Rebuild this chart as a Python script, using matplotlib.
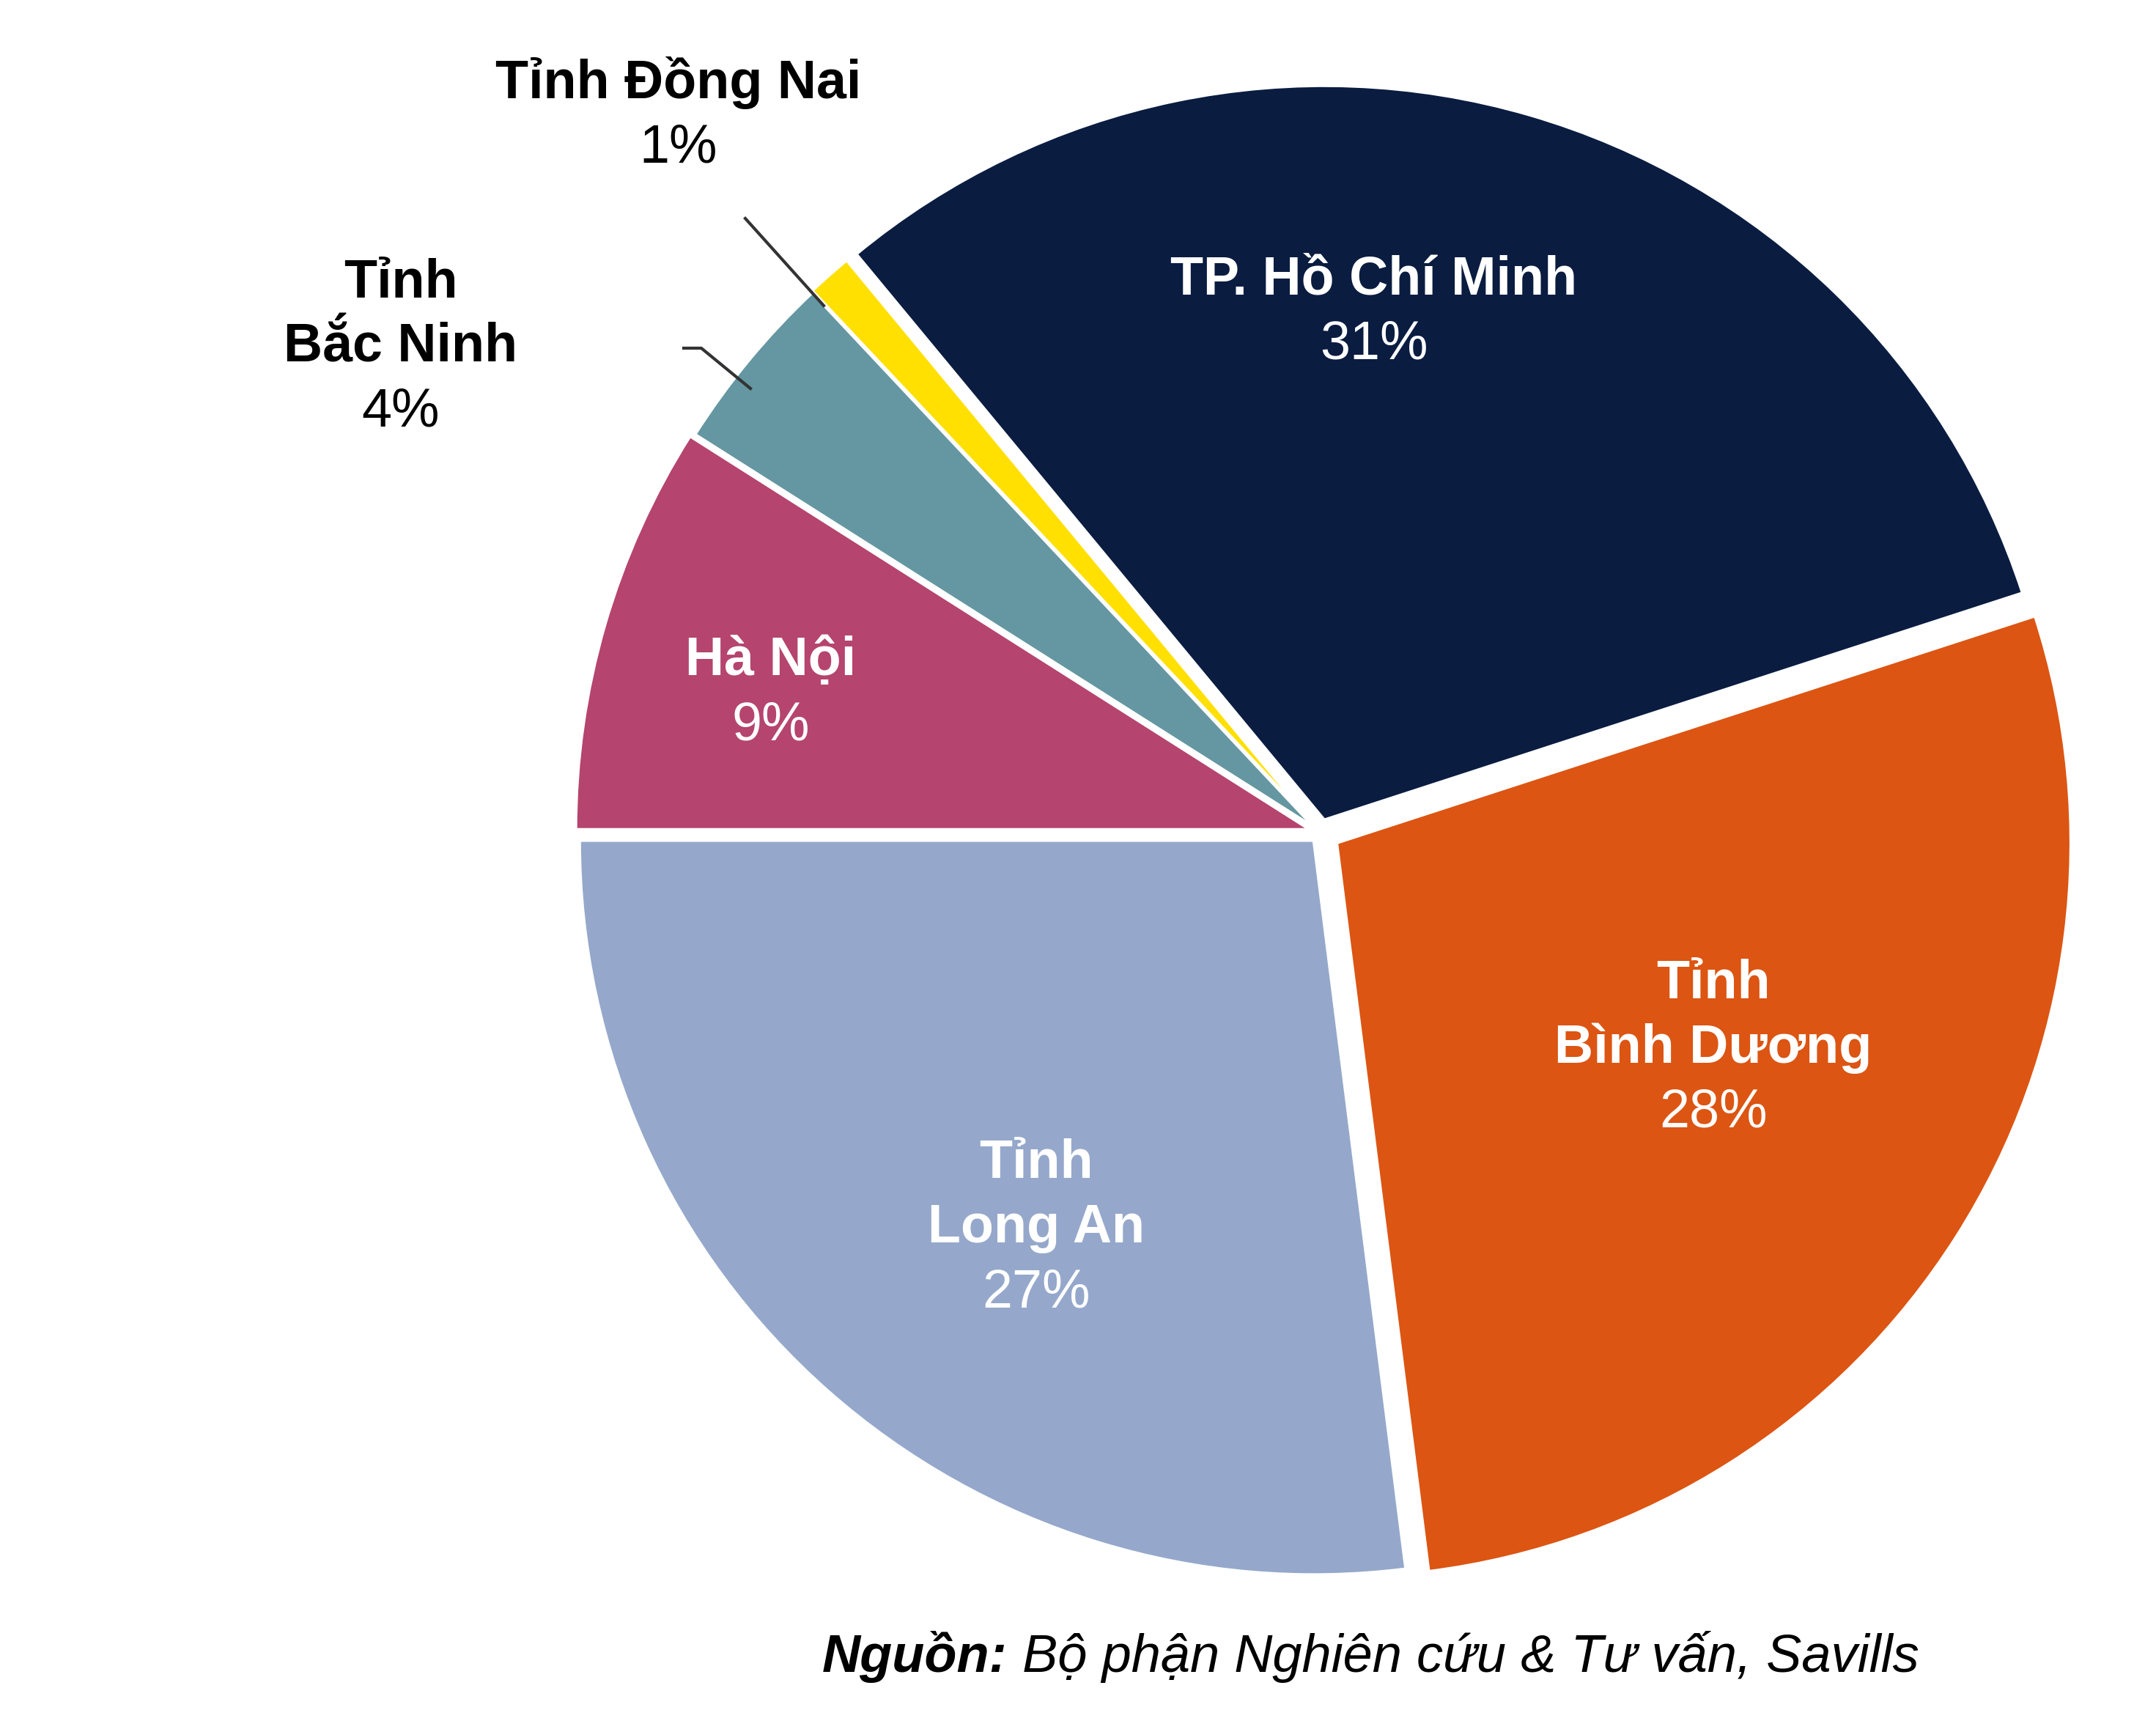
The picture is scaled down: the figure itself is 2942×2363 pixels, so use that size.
import matplotlib
matplotlib.use("Agg")
import matplotlib.pyplot as plt

# data
names = ["Tỉnh\nLong An", "Tỉnh\nBình Dương", "TP. Hồ Chí Minh",
         "Tỉnh Đồng Nai", "Tỉnh\nBắc Ninh", "Hà Nội"]
shares = [27, 28, 31, 1, 4, 9]
colors = ["#95A8CB", "#DC5513", "#0A1C40", "#FFE000", "#6497A1", "#B5446E"]
source_bold = "Nguồn:"
source_rest = " Bộ phận Nghiên cứu & Tư vấn, Savills"

W, H = 2942, 2363
plt.rcParams["font.family"] = ["Liberation Sans", "DejaVu Sans"]


def py(y):
    # pixel row (from top) -> data y
    return H - y


fig = plt.figure(figsize=(W / 100, H / 100), dpi=100)
ax = fig.add_axes([0, 0, 1, 1])

# explode offsets are in data units (pixels here)
explode = [14, 26, 18, 12, 10, 15]
ax.pie(shares, colors=colors, startangle=180, counterclock=True,
       radius=1002, center=(1802, py(1136)), explode=explode,
       wedgeprops=dict(edgecolor="white", linewidth=3))

ax.set_xlim(0, W)
ax.set_ylim(0, H)
ax.axis("off")

# label anchors: x centre, first baseline, text colour
label_pos = [(1414, 1607, "white"), (2338, 1362, "white"), (1875, 402, "white"),
             (926, 134, "black"), (547, 406, "black"), (1052, 921, "white")]
gap = 88
fs = 53
for name, val, (x, y0, c) in zip(names, shares, label_pos):
    lines = name.split("\n")
    for i, line in enumerate(lines):
        ax.text(x, py(y0 + i * gap), line, ha="center", va="baseline",
                fontsize=fs, fontweight="bold", color=c)
    ax.text(x, py(y0 + len(lines) * gap), f"{val}%", ha="center",
            va="baseline", fontsize=fs, color=c)

# leader lines for the two small slices
ax.plot([1017, 1124], [py(298), py(417)], color="#333333", lw=3)
ax.plot([933, 957, 1024], [py(475), py(475), py(530)], color="#333333", lw=3)

# source note
t1 = ax.text(1122, py(2281), source_bold, ha="left", va="baseline",
             fontsize=52, fontweight="bold", style="italic", color="black")
ax.annotate(source_rest, xy=(1, 0), xycoords=t1, ha="left", va="bottom",
            fontsize=52, style="italic", color="black")

fig.savefig("out.png", dpi=100, facecolor="white")
